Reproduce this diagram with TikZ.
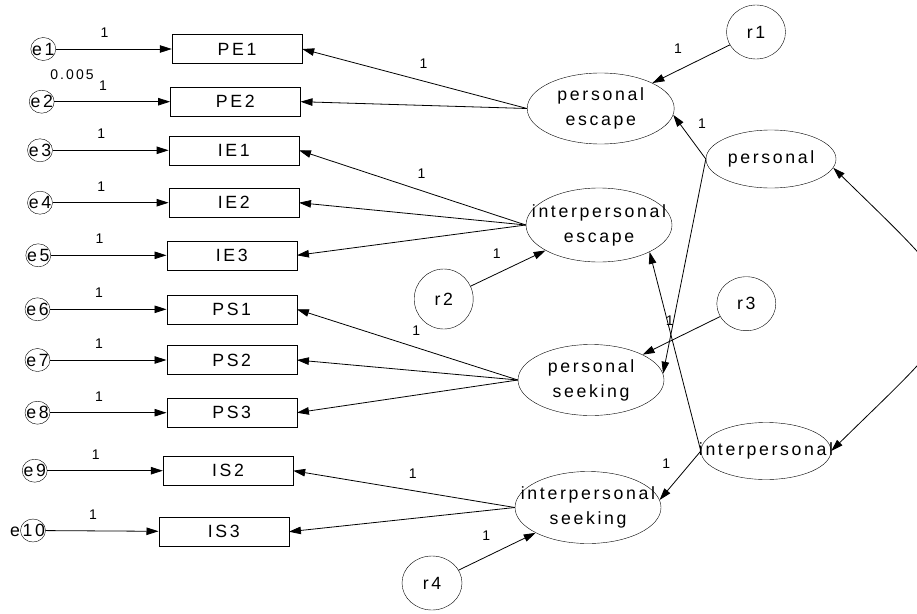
\documentclass[tikz,border=0pt]{standalone}
\usepackage{fontspec}
\setmainfont{Liberation Sans}[LetterSpace=15]
\usepackage{tikz}
\usetikzlibrary{arrows.meta,shapes.geometric,positioning}
\newcommand{\vartxt}{\fontsize{17.7}{25}\selectfont}
\newcommand{\wttxt}{\fontsize{14}{16}\selectfont}
\tikzset{
  obs/.style  = {draw, rectangle, minimum width=130pt, minimum height=29pt,
                 inner sep=0pt, font=\vartxt},
  err/.style  = {draw, ellipse, minimum width=25pt, minimum height=23pt, inner sep=0pt},
  lat/.style  = {draw, ellipse, minimum width=146pt, minimum height=72pt, inner sep=0pt},
  res/.style  = {draw, ellipse, minimum width=59pt, minimum height=55pt,
                 inner sep=0pt, font=\vartxt},
  vtxt/.style = {font=\vartxt, align=center, inner sep=0pt},
  wt/.style   = {font=\wttxt, inner sep=0pt},
  reg/.style  = {-{Triangle[length=12pt,width=7.5pt]}, line width=0.8pt},
  cov/.style  = {{Triangle[length=12pt,width=7.5pt]}-{Triangle[length=12pt,width=7.5pt]},
                 line width=0.8pt},
}

\begin{document}
\begin{tikzpicture}[x=1pt, y=-1pt]
\useasboundingbox (0,0) rectangle (917,613);
% error terms
\node[err, label={[vtxt]center:e1}] (e1) at (43.3,49) {};
\node[err, label={[vtxt]center:e2}] (e2) at (41.7,101.7) {};
\node[err, label={[vtxt]center:e3}] (e3) at (40,150.3) {};
\node[err, label={[vtxt]center:e4}] (e4) at (40,202.7) {};
\node[err, label={[vtxt]center:e5}] (e5) at (38.3,255.3) {};
\node[err, label={[vtxt]center:e6}] (e6) at (37.5,309.3) {};
\node[err, label={[vtxt]center:e7}] (e7) at (37.5,360) {};
\node[err, label={[vtxt]center:e8}] (e8) at (37.5,412.7) {};
\node[err, label={[vtxt]center:e9}] (e9) at (34.7,470.7) {};
\node[err, label={[vtxt,xshift=-5.5pt]center:e10}] (e10) at (33,530.5) {};
\node[wt] (var2) at (72,75) {0.005};
% observed items
\node[obs] (PE1) at (237,49) {PE1};
\node[obs] (PE2) at (235.3,101.7) {PE2};
\node[obs] (IE1) at (233.8,150.3) {IE1};
\node[obs] (IE2) at (233.8,202.7) {IE2};
\node[obs] (IE3) at (231.7,255.3) {IE3};
\node[obs] (PS1) at (231.7,309.3) {PS1};
\node[obs] (PS2) at (231.7,360) {PS2};
\node[obs] (PS3) at (231.7,412.7) {PS3};
\node[obs] (IS2) at (228,470.7) {IS2};
\node[obs] (IS3) at (223.7,531.7) {IS3};
% first order factors
\node[lat, minimum width=147pt, minimum height=71pt,
      label={[vtxt]center:personal\\escape}] (pesc) at (600.7,108.5) {};
\node[lat, minimum height=74pt,
      label={[vtxt]center:interpersonal\\escape}] (iesc) at (599,225) {};
\node[lat, minimum height=71pt,
      label={[vtxt]center:personal\\seeking}] (pseek) at (591,380) {};
\node[lat, label={[vtxt]center:interpersonal\\seeking}] (iseek) at (588,507.5) {};
% second order factors
\node[lat, minimum width=130pt, minimum height=58pt,
      label={[vtxt]center:personal}] (pers) at (771,159) {};
\node[lat, minimum width=130pt, minimum height=57pt,
      label={[vtxt]center:interpersonal}] (interp) at (766,451) {};
% residuals
\node[res, minimum height=54pt] (r1) at (756,32) {r1};
\node[res, minimum height=60pt] (r2) at (443.7,299) {r2};
\node[res, minimum height=54pt] (r3) at (746.3,303.7) {r3};
\node[res, minimum width=60pt, minimum height=54pt] (r4) at (432,583) {r4};

\draw[reg] (e1) -- node[wt, pos=0.42, above=11pt] (w1) {1} (PE1);
\draw[reg] (e2) -- node[wt, pos=0.42, above=11pt] (w2) {1} (PE2);
\draw[reg] (e3) -- node[wt, pos=0.42, above=11pt] (w3) {1} (IE1);
\draw[reg] (e4) -- node[wt, pos=0.42, above=11pt] (w4) {1} (IE2);
\draw[reg] (e5) -- node[wt, pos=0.42, above=11pt] (w5) {1} (IE3);
\draw[reg] (e6) -- node[wt, pos=0.42, above=11pt] (w6) {1} (PS1);
\draw[reg] (e7) -- node[wt, pos=0.42, above=11pt] (w7) {1} (PS2);
\draw[reg] (e8) -- node[wt, pos=0.42, above=11pt] (w8) {1} (PS3);
\draw[reg] (e9) -- node[wt, pos=0.42, above=11pt] (w9) {1} (IS2);
\draw[reg] (e10) -- node[wt, pos=0.42, above=11pt] (w10) {1} (IS3);

\draw[reg] (pesc.west) -- node[wt, pos=0.46, above=12pt] (wpe) {1} (PE1.east);
\draw[reg] (pesc.west) -- (PE2.east);
\draw[reg] (iesc.west) -- node[wt, pos=0.46, above=12pt] (wie) {1} (IE1.east);
\draw[reg] (iesc.west) -- (IE2.east);
\draw[reg] (iesc.west) -- (IE3.east);
\draw[reg] (pseek.west) -- node[wt, pos=0.46, above=12pt] (wps) {1} (PS1.east);
\draw[reg] (pseek.west) -- (PS2.east);
\draw[reg] (pseek.west) -- (PS3.east);
\draw[reg] (iseek.west) -- node[wt, pos=0.46, above=12pt] (wis) {1} (IS2.east);
\draw[reg] (iseek.west) -- (IS3.east);

\draw[reg] (r1) -- node[wt, pos=0.67, above=17pt] (wr1) {1} (pesc);
\draw[reg] (r2) -- node[wt, pos=0.35, above=15pt] (wr2) {1} (iesc);
\draw[reg] (r3) -- node[wt, pos=0.65, above=15pt] (wr3) {1} (pseek);
\draw[reg] (r4) -- node[wt, pos=0.36, above=16pt] (wr4) {1} (iseek);

\draw[reg] (pers.west) -- node[wt, pos=0.8, right=18pt] (wp) {1} (pesc.-5);
\draw[reg] (pers.west) -- (pseek.5);
\draw[reg] (interp.west) -- (iesc.-28);
\draw[reg] (interp.west) -- node[wt, pos=0.25, left=20pt] (wi) {1} (iseek.6);

\draw[cov] (pers.-8) .. controls (987,318) and (983,302) .. (interp.east);
\end{tikzpicture}
\end{document}
